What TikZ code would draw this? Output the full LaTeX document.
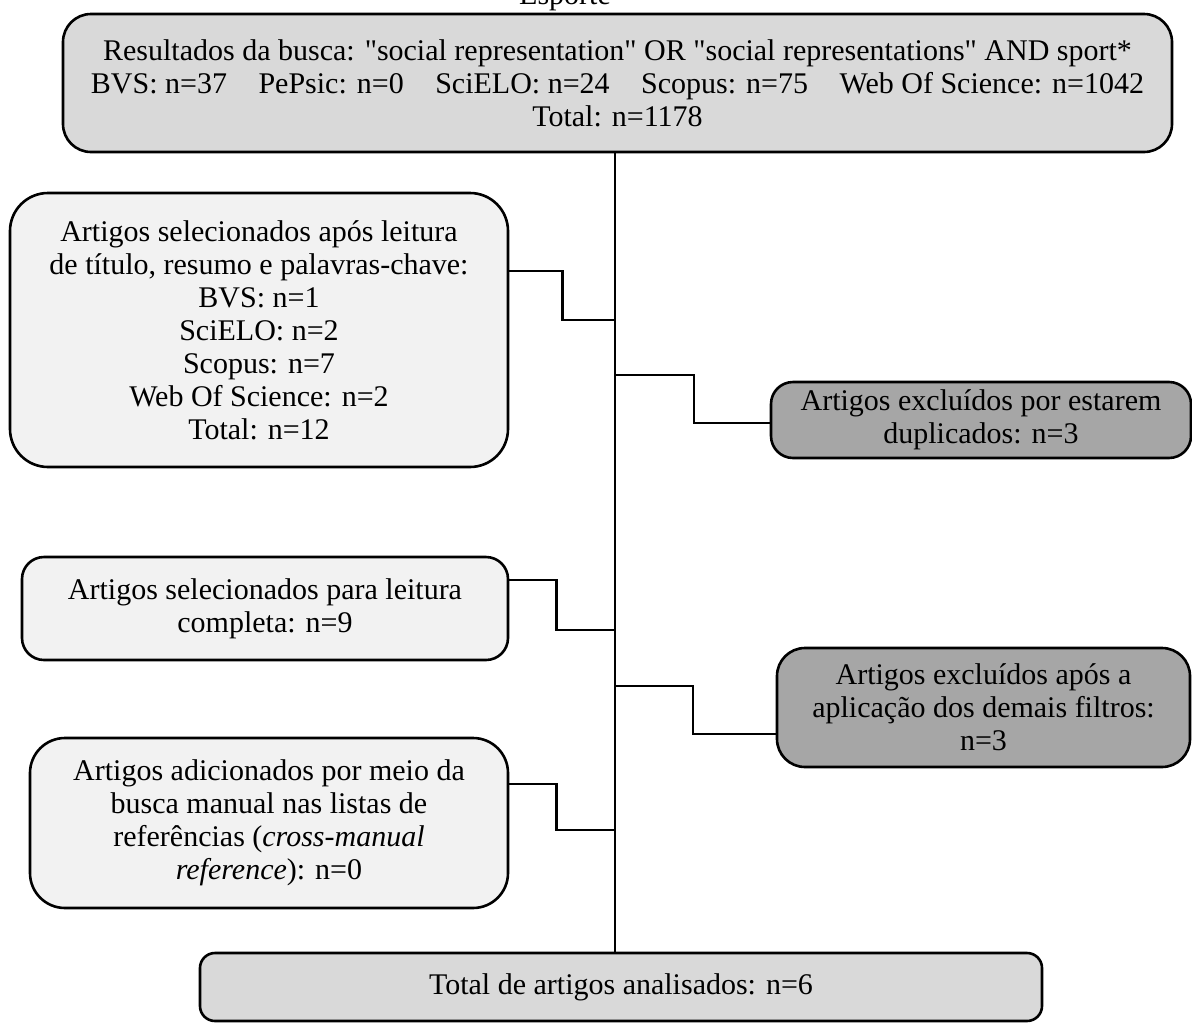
\documentclass[tikz,border=0pt]{standalone}
\usepackage{fontspec}
\setmainfont{Liberation Serif}
\begin{document}
\begin{tikzpicture}[x=1pt,y=-1pt,
  box/.style={draw=black, line width=2.6pt, align=center, inner sep=0pt,
    font=\fontsize{30}{33}\selectfont},
  conn/.style={draw=black, line width=2.8pt}]
\useasboundingbox (0,0) rectangle (1192,1023);
\definecolor{gA}{HTML}{D9D9D9}
\definecolor{gB}{HTML}{F2F2F2}
\definecolor{gC}{HTML}{A6A6A6}

\node[anchor=base, font=\fontsize{30}{33}\selectfont] (esp) at (565,4) {Esporte};

\node[box, fill=gA, rounded corners=28pt, minimum width=1109pt, minimum height=138pt] (top) at (617.5,83)
 {Resultados da busca: \textquotedbl social representation\textquotedbl{} OR \textquotedbl social representations\textquotedbl{} AND sport*\\
  BVS: n=37\hspace{0.8em} PePsic: n=0\hspace{0.8em} SciELO: n=24\hspace{0.8em} Scopus: n=75\hspace{0.8em} Web Of Science: n=1042\\
  Total: n=1178};

\node[box, fill=gB, rounded corners=38pt, minimum width=498pt, minimum height=274pt] (b1) at (259,330)
 {Artigos selecionados após leitura\\ de título, resumo e palavras-chave:\\ BVS: n=1\\ SciELO: n=2\\ Scopus: n=7\\ Web Of Science: n=2\\ Total: n=12};

\node[box, fill=gC, rounded corners=22pt, minimum width=420pt, minimum height=76pt] (dup) at (981,420)
 {Artigos excluídos por estarem\\ duplicados: n=3};

\node[box, fill=gB, rounded corners=22pt, minimum width=486pt, minimum height=103pt] (b2) at (265,608.5)
 {Artigos selecionados para leitura\\ completa: n=9};

\node[box, fill=gC, rounded corners=28pt, minimum width=413pt, minimum height=119pt] (flt) at (983.5,707.5)
 {Artigos excluídos após a\\ aplicação dos demais filtros:\\ n=3};

\node[box, fill=gB, rounded corners=35pt, minimum width=478pt, minimum height=170pt] (b3) at (269,823)
 {Artigos adicionados por meio da\\ busca manual nas listas de\\ referências (\textit{cross-manual}\\ \textit{reference}): n=0};

\node[box, fill=gA, rounded corners=15pt, minimum width=842pt, minimum height=68pt] (bot) at (621,987)
 {Total de artigos analisados: n=6};

\coordinate (sp) at (615,0);
\draw[conn] (top.south -| sp) -- (bot.north -| sp);

\draw[conn] (b1.east |- {0,271}) -- ++(53,0) |- (sp |- {0,320});
\draw[conn] (sp |- {0,375}) -- ++(79,0) |- (dup.west |- {0,423});
\draw[conn] (b2.east |- {0,580}) -- ++(47,0) |- (sp |- {0,630});
\draw[conn] (sp |- {0,686}) -- ++(78,0) |- (flt.west |- {0,734});
\draw[conn] (b3.east |- {0,784}) -- ++(47,0) |- (sp |- {0,830});
\end{tikzpicture}
\end{document}
